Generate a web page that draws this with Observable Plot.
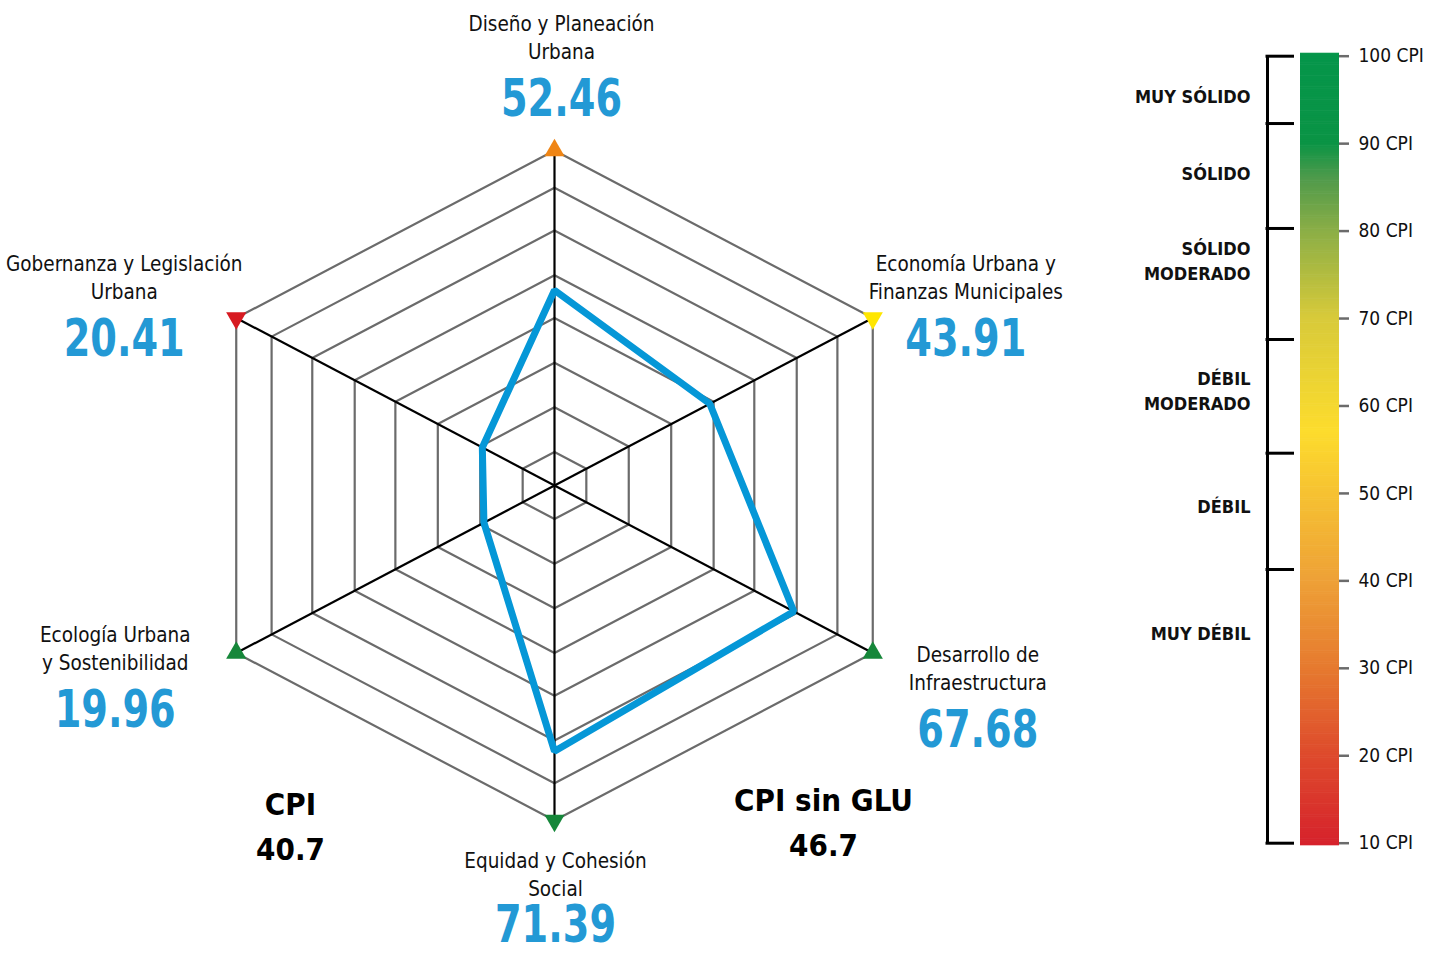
<!DOCTYPE html>
<html>
<head>
<meta charset="utf-8">
<script src="https://cdn.jsdelivr.net/npm/d3@7"></script>
<script src="https://cdn.jsdelivr.net/npm/@observablehq/plot@0.6"></script>
<style>
  html, body { margin: 0; padding: 0; background: #ffffff; }
  #page { position: relative; width: 1437px; height: 955px; overflow: hidden; }
  #radar, #scale { position: absolute; top: 0; }
  #radar { left: 0; }
  #scale { left: 1100px; }
</style>
</head>
<body>
<div id="page">
  <div id="radar"></div>
  <div id="scale"></div>
</div>
<script>
// ---- Data -------------------------------------------------------------
// Dimensions, clockwise from the top axis
const dimensions = [
  "Diseño y Planeación\nUrbana",
  "Economía Urbana y\nFinanzas Municipales",
  "Desarrollo de\nInfraestructura",
  "Equidad y Cohesión\nSocial",
  "Ecología Urbana\ny Sostenibilidad",
  "Gobernanza y Legislación\nUrbana"
];
const scores = [52.46, 43.91, 67.68, 71.39, 19.96, 20.41];
const markerColors = ["#ef8515", "#ffe600", "#16873a", "#16873a", "#16873a", "#d71a21"];

// Grid rings and axis length (score units)
const ringLevels = [9, 21, 33, 45, 56.5, 68.5, 80, 90];
const axisMax = 90;

// Summary indices
const summaryNames = ["CPI", "CPI sin GLU"];
const summaryValues = [40.7, 46.7];

// Colour scale of the CPI
const scaleTicks = [10, 20, 30, 40, 50, 60, 70, 80, 90, 100];
const rampStops  = [10, 20, 30, 40, 50, 57, 70, 80, 86, 90, 100];
const rampColors = ["#d6232c", "#de4a2c", "#e67a2f", "#eea137", "#f6c232", "#fddc2d",
                    "#d8ca3a", "#8bae46", "#4f9a4b", "#0a9445", "#05954a"];
const bandEdges = [100, 92.3, 80.3, 67.6, 54.6, 41.3, 10];
const bandNames = ["MUY SÓLIDO", "SÓLIDO", "SÓLIDO\nMODERADO", "DÉBIL\nMODERADO", "DÉBIL", "MUY DÉBIL"];
const bandLabelAt = [95.6, 86.8, 76.7, 61.9, 48.7, 34.1];

// ---- Layout -----------------------------------------------------------
const FONT = '"Liberation Sans Narrow", "DejaVu Sans Condensed", Roboto, "Noto Sans", sans-serif';
const BLUE = "#0597d7";
const VALUE_BLUE = "#2399d5";
const cx = 554, cy = 485, Ry = 335, stretch = 1.097;
// pixel offsets of each label group from its axis end: [dx, first line dy, value dy]
const labelOffsets = [
  [7, -128, 77], [93, -56, 77], [105, 0, 77],
  [1, 39, 66], [-121, -20, 77], [-112, -56, 77]
];
// pixel offsets of the summary names from the chart centre
const summaryOffsets = [[-264, 320], [269, 316]];

const angle = i => (i * Math.PI) / 3;            // clockwise from the top
const px = (v, i) => v * Math.sin(angle(i));
const py = (v, i) => v * Math.cos(angle(i));
const idx = d3.range(dimensions.length);

const rings = ringLevels.flatMap(level => idx.map(i => ({level, x: px(level, i), y: py(level, i)})));
const profile = idx.map(i => ({x: px(scores[i], i), y: py(scores[i], i)}));
const ends = idx.map(i => ({i, x: px(axisMax, i), y: py(axisMax, i)}));

const textMarks = idx.flatMap(i => {
  const [dx, dy, vdy] = labelOffsets[i];
  const at = [ends[i]];
  return [
    Plot.text(at, {x: "x", y: "y", text: () => dimensions[i], dx, dy: dy + 14,
      fontSize: 20.5, lineHeight: 1.36, lineAnchor: "middle", fill: "#111", fontFamily: FONT}),
    Plot.text(at, {x: "x", y: "y", text: () => scores[i].toFixed(2), dx, dy: dy + vdy,
      fontSize: 52, fontWeight: "bold", lineAnchor: "middle", fill: VALUE_BLUE, fontFamily: FONT,
      className: "score-value"})
  ];
});

const summaryMarks = summaryNames.flatMap((name, j) => {
  const [dx, dy] = summaryOffsets[j];
  const at = [{x: 0, y: 0}];
  return [
    Plot.text(at, {x: "x", y: "y", text: () => name, dx, dy,
      fontSize: 31, fontWeight: "bold", lineAnchor: "middle", fill: "#000", fontFamily: FONT}),
    Plot.text(at, {x: "x", y: "y", text: () => String(summaryValues[j]), dx, dy: dy + 45,
      fontSize: 31, fontWeight: "bold", lineAnchor: "middle", fill: "#000", fontFamily: FONT})
  ];
});

const radar = Plot.plot({
  width: 1100,
  height: 955,
  margin: 0,
  style: {fontFamily: FONT, background: "transparent"},
  x: {domain: [-axisMax, axisMax], range: [cx - Ry * stretch, cx + Ry * stretch], axis: null},
  y: {domain: [-axisMax, axisMax], range: [cy + Ry, cy - Ry], axis: null},
  marks: [
    Plot.line(rings, {x: "x", y: "y", z: "level", curve: "linear-closed", stroke: "#6b6b6b", strokeWidth: 2.2}),
    Plot.link(ends, {x1: 0, y1: 0, x2: "x", y2: "y", stroke: "#000", strokeWidth: 2.2}),
    Plot.line(profile, {x: "x", y: "y", curve: "linear-closed", stroke: BLUE, strokeWidth: 7, strokeLinejoin: "miter"}),
    Plot.dot(ends, {x: "x", y: "y", symbol: "triangle", r: 7.5, fill: d => markerColors[d.i],
      rotate: d => d.i * 60, stroke: "none"}),
    ...textMarks,
    ...summaryMarks
  ]
});
// condensed figures for the large score values
d3.select(radar).selectAll(".score-value text")
  .attr("textLength", 121)
  .attr("lengthAdjust", "spacingAndGlyphs");
document.getElementById("radar").append(radar);

// ---- Colour scale panel -----------------------------------------------
const rampSteps = d3.range(9.7, 100.3, 0.25);
const scalePanel = Plot.plot({
  width: 337,
  height: 955,
  margin: 0,
  style: {fontFamily: FONT, background: "transparent"},
  x: {domain: [1100, 1437], range: [0, 337], axis: null},
  y: {domain: [10, 100], range: [842.7, 55.7], axis: null},
  color: {type: "linear", domain: rampStops, range: rampColors, interpolate: "rgb"},
  marks: [
    Plot.rect(rampSteps, {x1: 1300, x2: 1339, y1: d => d, y2: d => Math.min(d + 0.32, 100.34), fill: d => d + 0.12, inset: 0}),
    Plot.ruleY(scaleTicks, {y: d => d, x1: 1339, x2: 1349, stroke: "#6b6b6b", strokeWidth: 2.5}),
    Plot.text(scaleTicks, {y: d => d, x: 1358, text: d => `${d} CPI`, textAnchor: "start",
      fontSize: 19, fill: "#111", fontFamily: FONT}),
    Plot.ruleX([1267], {y1: 10, y2: 100, stroke: "#000", strokeWidth: 3}),
    Plot.ruleY(bandEdges, {y: d => d, x1: 1265.5, x2: 1294, stroke: "#000", strokeWidth: 3}),
    Plot.text(bandNames, {y: (d, i) => bandLabelAt[i], x: 1250, text: d => d, textAnchor: "end",
      lineAnchor: "middle", lineHeight: 1.38, fontSize: 18, fontWeight: "bold", fill: "#111", fontFamily: FONT})
  ]
});
document.getElementById("scale").append(scalePanel);
</script>
</body>
</html>
